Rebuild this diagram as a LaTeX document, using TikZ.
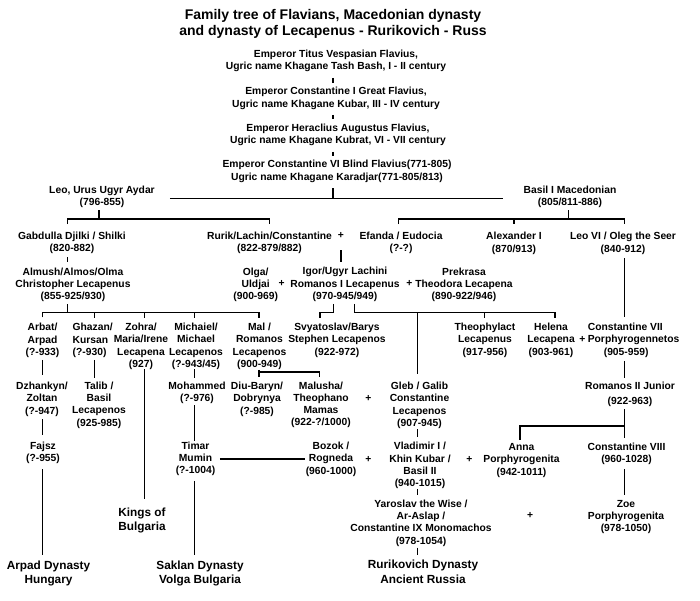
\documentclass[tikz,border=0pt]{standalone}
\usepackage{fontspec}
\setmainfont{Liberation Sans}
\setlength{\tabcolsep}{0pt}

\begin{document}
\begin{tikzpicture}[x=1pt,y=-1pt,line width=1.6pt,
  person/.style={inner sep=0pt,font=\fontsize{10.3}{12.3}\selectfont\bfseries},
  dynasty/.style={inner sep=0pt,font=\fontsize{11.8}{14.3}\selectfont\bfseries},
  plusmark/.style={inner sep=0pt,font=\fontsize{10.3}{12.3}\selectfont\bfseries}]
\useasboundingbox (0,0) rectangle (700,600);

% x of the long vertical lines
\coordinate (trunk) at (333,0);
\coordinate (arpadline) at (42.5,0);
\coordinate (almushline) at (67.5,0);
\coordinate (talibline) at (94.3,0);
\coordinate (zohraline) at (144.3,0);
\coordinate (saklanline) at (194.3,0);
\coordinate (malline) at (258.8,0);
\coordinate (malushaline) at (319.5,0);
\coordinate (svyatline) at (320,0);
\coordinate (rurikline) at (417.5,0);
\coordinate (theoline) at (484.3,0);
\coordinate (helenaline) at (555,0);
\coordinate (macedline) at (624.3,0);

\node (title) [inner sep=0pt,font=\fontsize{14}{16}\selectfont\bfseries] at (333,24.5) {\begin{tabular}{c}
Family tree of Flavians, Macedonian dynasty \\
and dynasty of Lecapenus - Rurikovich - Russ
\end{tabular}};

% Flavians
\node (emp1) [person] at (336,61) {\begin{tabular}{c}
Emperor Titus Vespasian Flavius, \\
Ugric name Khagane Tash Bash, I - II century
\end{tabular}};
\node (emp2) [person] at (336,98.5) {\begin{tabular}{c}
Emperor Constantine I Great Flavius, \\
Ugric name Khagane Kubar, III - IV century
\end{tabular}};
\node (emp3) [person] at (338,135.2) {\begin{tabular}{c}
Emperor Heraclius Augustus Flavius, \\
Ugric name Khagane Kubrat, VI - VII century
\end{tabular}};
\node (emp4) [person] at (337,171.4) {\begin{tabular}{c}
Emperor Constantine VI Blind Flavius(771-805) \\
Ugric name Khagane Karadjar(771-805/813)
\end{tabular}};

\node (leo) [person] at (102,197) {\begin{tabular}{c}
Leo, Urus Ugyr Aydar \\
(796-855)
\end{tabular}};
\node (basil) [person] at (570,197) {\begin{tabular}{c}
Basil I Macedonian \\
(805/811-886)
\end{tabular}};

\node (gabdulla) [person] at (72,243.3) {\begin{tabular}{c}
Gabdulla Djilki / Shilki \\
(820-882)
\end{tabular}};
\node (rurik) [person] at (269.5,243.3) {\begin{tabular}{c}
Rurik/Lachin/Constantine \\
(822-879/882)
\end{tabular}};
\node (rurikplus) [plusmark] at (341,235.7) {+};
\node (efanda) [person] at (401,243.3) {\begin{tabular}{c}
Efanda / Eudocia \\
(?-?)
\end{tabular}};
\node (alexander) [person] at (514,243.5) {\begin{tabular}{c}
Alexander I \\
(870/913)
\end{tabular}};
\node (leovi) [person] at (623,243.5) {\begin{tabular}{c}
Leo VI / Oleg the Seer \\
(840-912)
\end{tabular}};

\node (almush) [person] at (73,284.9) {\begin{tabular}{c}
Almush/Almos/Olma \\
Christopher Lecapenus \\
(855-925/930)
\end{tabular}};
\node (olga) [person] at (255.7,284.9) {\begin{tabular}{c}
Olga/ \\
Uldjai \\
(900-969)
\end{tabular}};
\node (olgaplus) [plusmark] at (281.7,283.3) {+};
\node (igor) [person] at (345,284.6) {\begin{tabular}{c}
Igor/Ugyr Lachini \\
Romanos I Lecapenus \\
(970-945/949)
\end{tabular}};
\node (igorplus) [plusmark] at (409.3,283.3) {+};
\node (prekrasa) [person] at (464,284.9) {\begin{tabular}{c}
Prekrasa \\
Theodora Lecapena \\
(890-922/946)
\end{tabular}};

% children of Almush and of Igor
\node (arbat) [person] at (42.5,340.7) {\begin{tabular}{c}
Arbat/ \\
Arpad \\
(?-933)
\end{tabular}};
\node (ghazan) [person] at (92.7,340.7) {\begin{tabular}{l}
Ghazan/ \\
Kursan \\
(?-930)
\end{tabular}};
\node (zohra) [person] at (141,346.6) {\begin{tabular}{c}
Zohra/ \\
Maria/Irene \\
Lecapena \\
(927)
\end{tabular}};
\node (michaiel) [person] at (196,346.6) {\begin{tabular}{c}
Michaiel/ \\
Michael \\
Lecapenos \\
(?-943/45)
\end{tabular}};
\node (mal) [person] at (259.5,346.6) {\begin{tabular}{c}
Mal / \\
Romanos \\
Lecapenos \\
(900-949)
\end{tabular}};
\node (svyatoslav) [person] at (337,340.5) {\begin{tabular}{c}
Svyatoslav/Barys \\
Stephen Lecapenos \\
(922-972)
\end{tabular}};
\node (theophylact) [person] at (485,340.4) {\begin{tabular}{c}
Theophylact \\
Lecapenus \\
(917-956)
\end{tabular}};
\node (helena) [person] at (551,340.4) {\begin{tabular}{c}
Helena \\
Lecapena \\
(903-961)
\end{tabular}};
\node (helenaplus) [plusmark] at (582.3,339.3) {+};
\node (constvii) [person] at (633.6,340.4) {\begin{tabular}{l}
Constantine VII \\
Porphyrogennetos \\
\hspace*{16pt}(905-959)
\end{tabular}};

\node (dzhankyn) [person] at (42,399.3) {\begin{tabular}{c}
Dzhankyn/ \\
Zoltan \\
(?-947)
\end{tabular}};
\node (talib) [person] at (99,405.2) {\begin{tabular}{c}
Talib / \\
Basil \\
Lecapenos \\
(925-985)
\end{tabular}};
\node (mohammed) [person] at (197,393.1) {\begin{tabular}{c}
Mohammed \\
(?-976)
\end{tabular}};
\node (diubaryn) [person] at (257,399.3) {\begin{tabular}{c}
Diu-Baryn/ \\
Dobrynya \\
(?-985)
\end{tabular}};
\node (malusha) [person] at (321,405) {\begin{tabular}{c}
Malusha/ \\
Theophano \\
Mamas \\
(922-?/1000)
\end{tabular}};
\node (malushaplus) [plusmark] at (368.3,398.3) {+};
\node (gleb) [person] at (419.5,405.4) {\begin{tabular}{c}
Gleb / Galib \\
Constantine \\
Lecapenos \\
(907-945)
\end{tabular}};
\node (romanosii) [person] at (630,394.6) {\begin{tabular}{c}
Romanos II Junior \\[2.4pt]
(922-963)
\end{tabular}};

\node (fajsz) [person] at (43,453.2) {\begin{tabular}{c}
Fajsz \\
(?-955)
\end{tabular}};
\node (timar) [person] at (195.5,459) {\begin{tabular}{c}
Timar \\
Mumin \\
(?-1004)
\end{tabular}};
\node (bozok) [person] at (331,459.5) {\begin{tabular}{c}
Bozok / \\
Rogneda \\
(960-1000)
\end{tabular}};
\node (rognedaplus) [plusmark] at (368.3,459) {+};
\node (vladimir) [person] at (420,465.8) {\begin{tabular}{c}
Vladimir I / \\
Khin Kubar / \\
Basil II \\
(940-1015)
\end{tabular}};
\node (vladimirplus) [plusmark] at (469.3,459) {+};
\node (anna) [person] at (521.5,460.3) {\begin{tabular}{c}
Anna \\
Porphyrogenita \\
(942-1011)
\end{tabular}};
\node (constviii) [person] at (626.5,454.2) {\begin{tabular}{c}
Constantine VIII \\
(960-1028)
\end{tabular}};

\node (yaroslav) [person] at (421,523.3) {\begin{tabular}{c}
Yaroslav the Wise / \\
Ar-Aslap / \\
Constantine IX Monomachos \\
(978-1054)
\end{tabular}};
\node (yaroslavplus) [plusmark] at (530,515) {+};
\node (zoe) [person] at (626,517.2) {\begin{tabular}{c}
Zoe \\
Porphyrogenita \\
(978-1050)
\end{tabular}};

% dynasties
\node (kings) [dynasty] at (142,520.3) {\begin{tabular}{c}
Kings of \\
Bulgaria
\end{tabular}};
\node (arpadd) [dynasty] at (48.5,573.5) {\begin{tabular}{c}
Arpad Dynasty \\
Hungary
\end{tabular}};
\node (saklan) [dynasty] at (200,573.5) {\begin{tabular}{c}
Saklan Dynasty \\
Volga Bulgaria
\end{tabular}};
\node (rurikd) [dynasty] at (423,573.1) {\begin{tabular}{c}
Rurikovich Dynasty \\
Ancient Russia
\end{tabular}};

% Flavian trunk
\draw[shorten <=3.7pt,shorten >=2.2pt] (emp1.south -| trunk) -- (emp2.north -| trunk);
\draw[shorten <=3.2pt,shorten >=2.9pt] (emp2.south -| trunk) -- (emp3.north -| trunk);
\draw[shorten <=3.5pt,shorten >=2pt] (emp3.south -| trunk) -- (emp4.north -| trunk);
\path (leo.east) ++(14.3,1.3) coordinate (leoend);
\draw[shorten >=19.6pt] (leoend) -- (leoend -| basil.west);
\draw[shorten <=3.6pt] (emp4.south -| trunk) -- (leoend -| trunk);

% Leo and Basil
\draw ([xshift=-3pt]leo.south) -- ++(0,9) coordinate (leofork);
\draw[shorten <=6pt,shorten >=6pt] (gabdulla.north -| almushline) |- (leofork) -| (rurik.north);
\draw ([xshift=-1.7pt]basil.south) -- ++(0,9) coordinate (basilfork);
\draw[shorten <=6pt,shorten >=6pt] ([xshift=-2.7pt]efanda.north) |- (basilfork) -| (leovi.north -| macedline);
\draw[shorten >=6pt] (basilfork -| alexander.north) -- (alexander.north);

% Almush line
\draw[shorten <=1pt,shorten >=3.7pt] (gabdulla.south -| almushline) -- (almush.north -| almushline);
\draw (almush.south -| almushline) -- ++(0,8.4) coordinate (almushfork);
\draw[shorten <=4pt,shorten >=3.7pt] (arbat.north -| arpadline) |- (almushfork) -| (mal.north -| malline);
\draw[shorten >=3.9pt] (almushfork -| talibline) -- (ghazan.north -| talibline);
\draw[shorten >=3.7pt] (almushfork -| zohraline) -- (zohra.north -| zohraline);
\draw[shorten >=3.7pt] (almushfork -| saklanline) -- (michaiel.north -| saklanline);

\draw[shorten >=5pt] (arbat.south -| arpadline) -- (dzhankyn.north -| arpadline);
\draw[shorten <=0.5pt,shorten >=4.9pt] (dzhankyn.south -| arpadline) -- (fajsz.north -| arpadline);
\draw[shorten <=2.8pt,shorten >=3.2pt] (fajsz.south -| arpadline) -- (arpadd.north -| arpadline);
\draw[shorten >=1.6pt] (ghazan.south -| talibline) -- (talib.north -| talibline);
\draw[shorten <=-2.9pt,shorten >=6pt] (zohra.south -| zohraline) -- (kings.north -| zohraline);
\draw[shorten <=-2.9pt,shorten >=2.5pt] (michaiel.south -| saklanline) -- (mohammed.north -| saklanline);
\draw[shorten <=-1.1pt,shorten >=-1.2pt] (mohammed.south -| saklanline) -- (timar.north -| saklanline);
\draw[shorten <=2.5pt,shorten >=3.2pt] (timar.south -| saklanline) -- (saklan.north -| saklanline);
\draw[shorten <=3.8pt] (timar.east) -- (timar.east -| bozok.west);

\draw[shorten <=-2.2pt,shorten >=2.8pt] (mal.south -| malline) -- (diubaryn.north -| malline);
\draw[shorten >=2.4pt] (mal.south -| malline) -| (malusha.north -| malushaline);

% Rurik line
\draw[shorten <=10.6pt,shorten >=3.5pt] (rurikplus.south) -- (rurikplus.south |- igor.north);
\path (igor.south) ++(0,8.6) coordinate (igorfork);
\draw[shorten >=3.7pt] ([xshift=-11.5pt]igor.south) |- (igorfork -| svyatline) -- (svyatoslav.north -| svyatline);
\draw[shorten >=3.6pt] ([xshift=9.3pt]igor.south) |- (igorfork -| helenaline) -- (helena.north -| helenaline);
\draw[shorten >=3.6pt] (igorfork -| theoline) -- (theophylact.north -| theoline);
\draw[shorten >=5.8pt] (igorfork -| rurikline) -- (gleb.north -| rurikline);
\draw[shorten <=-1.7pt,shorten >=3.9pt] (gleb.south -| rurikline) -- (vladimir.north -| rurikline);
\draw[shorten <=-2.1pt,shorten >=2.7pt] (vladimir.south -| rurikline) -- (yaroslav.north -| rurikline);
\draw[shorten <=-1.2pt,shorten >=2.8pt] (yaroslav.south -| rurikline) -- (rurikd.north -| rurikline);

% Macedonian line
\draw[shorten <=1.7pt,shorten >=3.7pt] (leovi.south -| macedline) -- (constvii.north -| macedline);
\draw[shorten <=1.2pt,shorten >=2.8pt] (constvii.south -| macedline) -- (romanosii.north -| macedline);
\draw[shorten <=0.2pt,shorten >=3.6pt] (romanosii.south -| macedline) -- (constviii.north -| macedline);
\path (romanosii.south -| macedline) ++(0,16.9) coordinate (romanfork);
\draw[shorten >=1.2pt] (romanfork) -| ([xshift=-1.5pt]anna.north);
\draw[shorten <=1.8pt,shorten >=2.8pt] (constviii.south -| macedline) -- (zoe.north -| macedline);
\end{tikzpicture}
\end{document}
